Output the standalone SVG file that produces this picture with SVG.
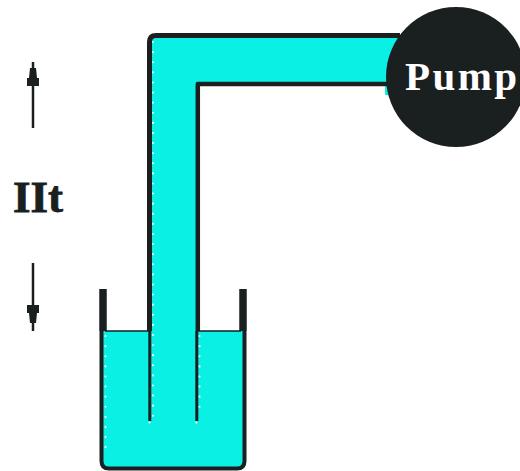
<svg xmlns="http://www.w3.org/2000/svg" width="520" height="471" viewBox="0 0 520 471">
<style>
.water{fill:#0af0e4}
.ink{fill:#1a1f1f}
.wall{fill:none;stroke:#1a1f1f;stroke-linejoin:round;stroke-linecap:butt}
.dots{fill:none;stroke:#fff;stroke-width:2;stroke-linecap:round;stroke-dasharray:0.1 10}
.lbl{font-family:"Liberation Serif","Times New Roman",serif;font-weight:bold}
</style>
<defs>
<path id="arrowhead" class="ink" d="M-3,-11 H3 L4,-1 H6 V7 H-6 V-1 H-4 Z"/>
</defs>
<rect width="520" height="471" fill="#fff"/>
<g id="beaker-water">
<path class="water" d="M102,331 H244 V463 Q244,467 240,467 H106 Q102,467 102,463 Z"/>
</g>
<g id="pipe">
<path class="water" d="M150,422 V36 H400 V95 H385 V84 H198 V422 Z"/>
<path class="wall" stroke-width="5" d="M149.500,331 V42 Q149.500,35.500 156,35.500 H400"/>
<path class="wall" stroke-width="4.500" d="M197.800,331 V84 H392"/>
<path class="wall" stroke-width="3" d="M149.800,331 V421 M196.800,331 V421"/>
<path class="dots" d="M153,42 V416"/>
<path class="dots" d="M199.500,336 V416"/>
<circle cx="149.500" cy="422.500" r="1.100" fill="#fff"/>
<circle cx="196.300" cy="422.500" r="1.100" fill="#fff"/>
</g>
<g id="beaker">
<path class="wall" stroke-width="4" d="M101.500,331 V461 Q101.500,468.500 109,468.500 H237 Q244.500,468.500 244.500,461 V331"/>
<path class="wall" stroke-width="7.500" stroke-linecap="round" d="M103,289 V331"/>
<path class="wall" stroke-width="7.500" stroke-linecap="round" d="M243,289 V331"/>
<path class="wall" stroke-width="1.500" d="M105,331 H149 M197,331 H241"/>
<path class="dots" d="M105.500,336 V456"/>
</g>
<g id="pump">
<circle class="ink" cx="456" cy="77" r="70"/>
<text class="lbl" x="405" y="90" font-size="41" fill="#fff" textLength="112" lengthAdjust="spacing">Pump</text>
</g>
<g id="height-label">
<text class="lbl ink" x="13" y="212" font-size="45" stroke="#1a1f1f" stroke-width="0.800">IIt</text>
<path stroke="#1a1f1f" stroke-width="2.500" d="M33,62 V128"/>
<use href="#arrowhead" transform="translate(33,79)"/>
<path stroke="#1a1f1f" stroke-width="2.500" d="M33,263 V331"/>
<use href="#arrowhead" transform="translate(33,312) rotate(180)"/>
</g>
</svg>
